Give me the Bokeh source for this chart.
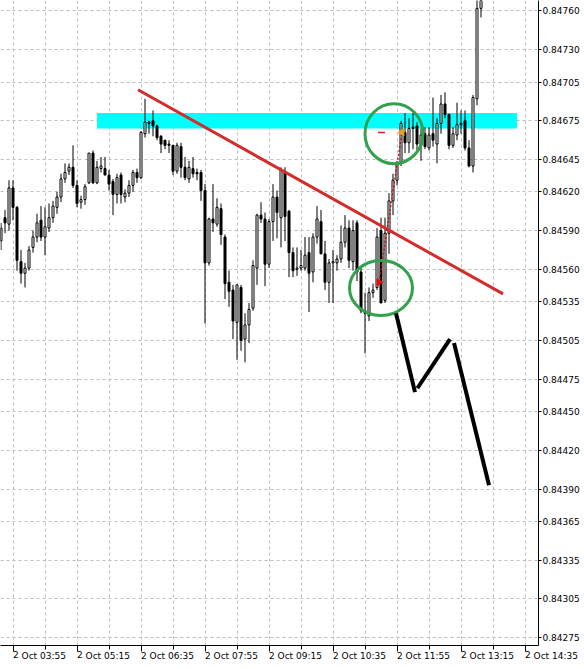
from math import pi
from bokeh.plotting import figure
from bokeh.models import Range1d, FixedTicker, ColumnDataSource, PrintfTickFormatter
from bokeh.embed import file_html
from bokeh.resources import INLINE

# ---- data (5-minute bars, 2 Oct; bar 0 = 03:55) ----
bars = list(range(-3, 118))
opens = [0.84582, 0.84600,
         0.84595, 0.84623, 0.84608, 0.84566, 0.84557, 0.84561, 0.84577, 0.84585, 0.84598, 0.84585,
         0.84592, 0.84600, 0.84608, 0.84616, 0.84630, 0.84636, 0.84639, 0.84625, 0.84612, 0.84614,
         0.84627, 0.84650, 0.84627, 0.84638, 0.84638, 0.84633, 0.84628, 0.84618, 0.84633, 0.84616,
         0.84619, 0.84625, 0.84635, 0.84631, 0.84665, 0.84673, 0.84675, 0.84671, 0.84663, 0.84660,
         0.84657, 0.84656, 0.84636, 0.84655, 0.84639, 0.84630, 0.84638, 0.84635, 0.84635, 0.84621,
         0.84565, 0.84599, 0.84595, 0.84607, 0.84585, 0.84550, 0.84544, 0.84519, 0.84546, 0.84506,
         0.84517, 0.84530, 0.84561, 0.84602, 0.84599, 0.84564, 0.84597, 0.84616, 0.84600, 0.84635,
         0.84605, 0.84573, 0.84560, 0.84561, 0.84561, 0.84573, 0.84558, 0.84585, 0.84597, 0.84572,
         0.84550, 0.84565, 0.84565, 0.84568, 0.84581, 0.84592, 0.84566, 0.84596, 0.84558, 0.84528,
         0.84524, 0.84542, 0.84546, 0.84590, 0.84536, 0.84588, 0.84613, 0.84629, 0.84642, 0.84666,
         0.84658, 0.84670, 0.84671, 0.84656, 0.84665, 0.84654, 0.84665, 0.84657, 0.84673, 0.84688,
         0.84680, 0.84656, 0.84664, 0.84672, 0.84675, 0.84654, 0.84640, 0.84692, 0.84762]
highs = [0.84596, 0.84606,
         0.84629, 0.84629, 0.84609, 0.84575, 0.84565, 0.84578, 0.84590, 0.84603, 0.84609, 0.84608,
         0.84611, 0.84613, 0.84620, 0.84634, 0.84642, 0.84642, 0.84656, 0.84629, 0.84617, 0.84626,
         0.84650, 0.84652, 0.84644, 0.84647, 0.84647, 0.84637, 0.84630, 0.84634, 0.84635, 0.84622,
         0.84629, 0.84637, 0.84638, 0.84667, 0.84692, 0.84675, 0.84683, 0.84672, 0.84664, 0.84660,
         0.84660, 0.84656, 0.84658, 0.84658, 0.84647, 0.84644, 0.84647, 0.84638, 0.84637, 0.84626,
         0.84600, 0.84626, 0.84615, 0.84611, 0.84587, 0.84559, 0.84548, 0.84548, 0.84548, 0.84526,
         0.84534, 0.84567, 0.84603, 0.84612, 0.84604, 0.84599, 0.84626, 0.84621, 0.84639, 0.84639,
         0.84606, 0.84577, 0.84577, 0.84575, 0.84585, 0.84585, 0.84588, 0.84609, 0.84606, 0.84582,
         0.84568, 0.84575, 0.84571, 0.84594, 0.84602, 0.84598, 0.84598, 0.84598, 0.84561, 0.84542,
         0.84546, 0.84549, 0.84592, 0.84600, 0.84600, 0.84619, 0.84634, 0.84644, 0.84675, 0.84681,
         0.84677, 0.84681, 0.84674, 0.84669, 0.84670, 0.84670, 0.84693, 0.84677, 0.84695, 0.84697,
         0.84680, 0.84670, 0.84689, 0.84683, 0.84683, 0.84660, 0.84695, 0.84784, 0.84799]
lows = [0.84575, 0.84588,
        0.84590, 0.84598, 0.84559, 0.84549, 0.84546, 0.84559, 0.84573, 0.84581, 0.84582, 0.84571,
        0.84589, 0.84596, 0.84603, 0.84612, 0.84627, 0.84633, 0.84623, 0.84608, 0.84607, 0.84610,
        0.84626, 0.84626, 0.84626, 0.84635, 0.84633, 0.84621, 0.84602, 0.84611, 0.84611, 0.84612,
        0.84616, 0.84620, 0.84627, 0.84630, 0.84662, 0.84665, 0.84663, 0.84660, 0.84650, 0.84653,
        0.84650, 0.84633, 0.84634, 0.84631, 0.84629, 0.84627, 0.84631, 0.84629, 0.84613, 0.84518,
        0.84563, 0.84589, 0.84593, 0.84579, 0.84537, 0.84531, 0.84506, 0.84490, 0.84497, 0.84488,
        0.84503, 0.84528, 0.84548, 0.84596, 0.84547, 0.84561, 0.84582, 0.84584, 0.84577, 0.84582,
        0.84554, 0.84554, 0.84555, 0.84559, 0.84559, 0.84527, 0.84550, 0.84580, 0.84572, 0.84544,
        0.84534, 0.84534, 0.84559, 0.84565, 0.84577, 0.84561, 0.84559, 0.84551, 0.84526, 0.84495,
        0.84520, 0.84538, 0.84544, 0.84534, 0.84534, 0.84572, 0.84602, 0.84625, 0.84640, 0.84650,
        0.84650, 0.84653, 0.84652, 0.84644, 0.84653, 0.84652, 0.84655, 0.84642, 0.84665, 0.84677,
        0.84653, 0.84654, 0.84660, 0.84665, 0.84652, 0.84639, 0.84635, 0.84687, 0.84755]
closes = [0.84592, 0.84596,
          0.84623, 0.84608, 0.84567, 0.84557, 0.84561, 0.84575, 0.84585, 0.84596, 0.84585, 0.84593,
          0.84600, 0.84609, 0.84616, 0.84630, 0.84635, 0.84639, 0.84625, 0.84611, 0.84614, 0.84624,
          0.84650, 0.84627, 0.84639, 0.84640, 0.84633, 0.84626, 0.84618, 0.84631, 0.84618, 0.84619,
          0.84625, 0.84635, 0.84631, 0.84666, 0.84674, 0.84674, 0.84671, 0.84662, 0.84657, 0.84656,
          0.84656, 0.84636, 0.84656, 0.84639, 0.84631, 0.84639, 0.84634, 0.84634, 0.84621, 0.84565,
          0.84599, 0.84596, 0.84608, 0.84587, 0.84549, 0.84543, 0.84520, 0.84548, 0.84505, 0.84517,
          0.84529, 0.84563, 0.84602, 0.84599, 0.84564, 0.84597, 0.84616, 0.84604, 0.84637, 0.84601,
          0.84573, 0.84559, 0.84561, 0.84563, 0.84571, 0.84557, 0.84585, 0.84599, 0.84572, 0.84550,
          0.84565, 0.84566, 0.84568, 0.84581, 0.84592, 0.84567, 0.84590, 0.84558, 0.84528, 0.84526,
          0.84542, 0.84544, 0.84585, 0.84534, 0.84588, 0.84613, 0.84629, 0.84642, 0.84673, 0.84658,
          0.84669, 0.84669, 0.84657, 0.84664, 0.84655, 0.84664, 0.84660, 0.84673, 0.84688, 0.84680,
          0.84656, 0.84665, 0.84672, 0.84673, 0.84654, 0.84640, 0.84693, 0.84762, 0.84791]

tick_bars = [0, 16, 32, 48, 64, 80, 96, 112, 128]
tick_labels = ["2 Oct 03:55", "2 Oct 05:15", "2 Oct 06:35", "2 Oct 07:55", "2 Oct 09:15",
               "2 Oct 10:35", "2 Oct 11:55", "2 Oct 13:15", "2 Oct 14:35"]
grid_bars = list(range(0, 136, 8))
price_ticks = [0.84760, 0.84730, 0.84705, 0.84675, 0.84645, 0.84620, 0.84590, 0.84560, 0.84535,
               0.84505, 0.84475, 0.84450, 0.84420, 0.84390, 0.84365, 0.84335, 0.84305, 0.84275]

# drawn objects
zone_bars = [21, 126]
zone_prices = [0.84669, 0.84681]
trend_bars = [31.25, 122.5]
trend_prices = [0.84699, 0.84541]
circle_bars = [95.25, 92.0]
circle_prices = [0.84665, 0.845456]
circle_w = [14.5, 15.75]
circle_h = [0.000464, 0.000426]
zig_bars = [[95.75, 100.5], [101.1, 109.25], [110.25, 119.0]]
zig_prices = [[0.84526, 0.84465], [0.84468, 0.84506], [0.84503, 0.84393]]
trade_bars = [91.5, 97.25]
trade_prices = [0.84550, 0.84666]
stop_bars = [91.25, 93.0]
stop_price = 0.84666

FONT = "DejaVu Sans"

up = [c >= o for o, c in zip(opens, closes)]
src = ColumnDataSource(dict(
    x=bars, high=highs, low=lows,
    top=[max(o, c) for o, c in zip(opens, closes)],
    bottom=[min(o, c) for o, c in zip(opens, closes)],
    fill=["white" if u else "black" for u in up],
))

p = figure(width=584, height=669, output_backend="svg", toolbar_location=None,
           x_range=Range1d(-3.125, 131.375), y_range=Range1d(0.842689, 0.847681),
           y_axis_location="right", min_border_left=0, min_border_top=0,
           min_border_right=46, min_border_bottom=24)
p.outline_line_color = None
p.background_fill_color = "white"

# grid
p.xgrid.ticker = FixedTicker(ticks=grid_bars)
for g in (p.xgrid, p.ygrid):
    g.grid_line_color = "#BDBDBD"
    g.grid_line_dash = "3 3"
    g.grid_line_width = 1

# zone rectangle
p.quad(left=[zone_bars[0]], right=[zone_bars[1]], bottom=[zone_prices[0]], top=[zone_prices[1]],
       fill_color="#00FFFF", line_color=None)

# candles
p.segment(x0="x", y0="low", x1="x", y1="high", source=src, line_color="black", line_width=1)
p.vbar(x="x", width=0.5, top="top", bottom="bottom", source=src,
       fill_color="fill", line_color="black", line_width=1)

# trend line
p.line(trend_bars, trend_prices, line_color="#D42B2B", line_width=3)

# trade marks
p.line(stop_bars, [stop_price, stop_price], line_color="#E02020", line_width=1.5)
p.line(trade_bars, trade_prices, line_color="#D01010", line_width=1.5, line_dash="2 2")
p.scatter([trade_bars[0]], [trade_prices[0]], marker="triangle", size=7, angle=-pi / 2,
          fill_color="#E01010", line_color="#E01010")
p.scatter([trade_bars[1]], [trade_prices[1]], marker="triangle", size=7, angle=pi / 2,
          fill_color="#E8A317", line_color="#E8A317")

# circles
p.ellipse(x=circle_bars, y=circle_prices, width=circle_w, height=circle_h,
          fill_color=None, line_color="#32A14B", line_width=3)

# zigzag
p.multi_line(zig_bars, zig_prices, line_color="black", line_width=4)

# x axis: labels start at their tick (tiny negative orientation -> left aligned)
xa = p.xaxis[0]
xa.ticker = FixedTicker(ticks=tick_bars, minor_ticks=[b + 8 for b in tick_bars])
xa.major_label_overrides = dict(zip(tick_bars, tick_labels))
xa.major_label_orientation = -0.0001
xa.major_tick_out = 6
xa.major_tick_in = 0
xa.minor_tick_out = 4
xa.minor_tick_in = 0
xa.major_tick_line_color = "black"
xa.minor_tick_line_color = "black"
xa.axis_line_color = "black"
xa.major_label_standoff = 4
xa.major_label_text_font = FONT
xa.major_label_text_font_size = "9px"
xa.major_label_text_color = "black"

ya = p.yaxis[0]
ya.ticker = FixedTicker(ticks=price_ticks)
ya.formatter = PrintfTickFormatter(format="%.5f")
ya.major_tick_out = 3
ya.major_tick_in = 0
ya.minor_tick_out = 0
ya.minor_tick_in = 0
ya.axis_line_color = "black"
ya.major_tick_line_color = "black"
ya.major_label_standoff = 1
ya.major_label_text_font = FONT
ya.major_label_text_font_size = "9px"
ya.major_label_text_color = "black"

open("out.html", "w").write(file_html(p, INLINE))
